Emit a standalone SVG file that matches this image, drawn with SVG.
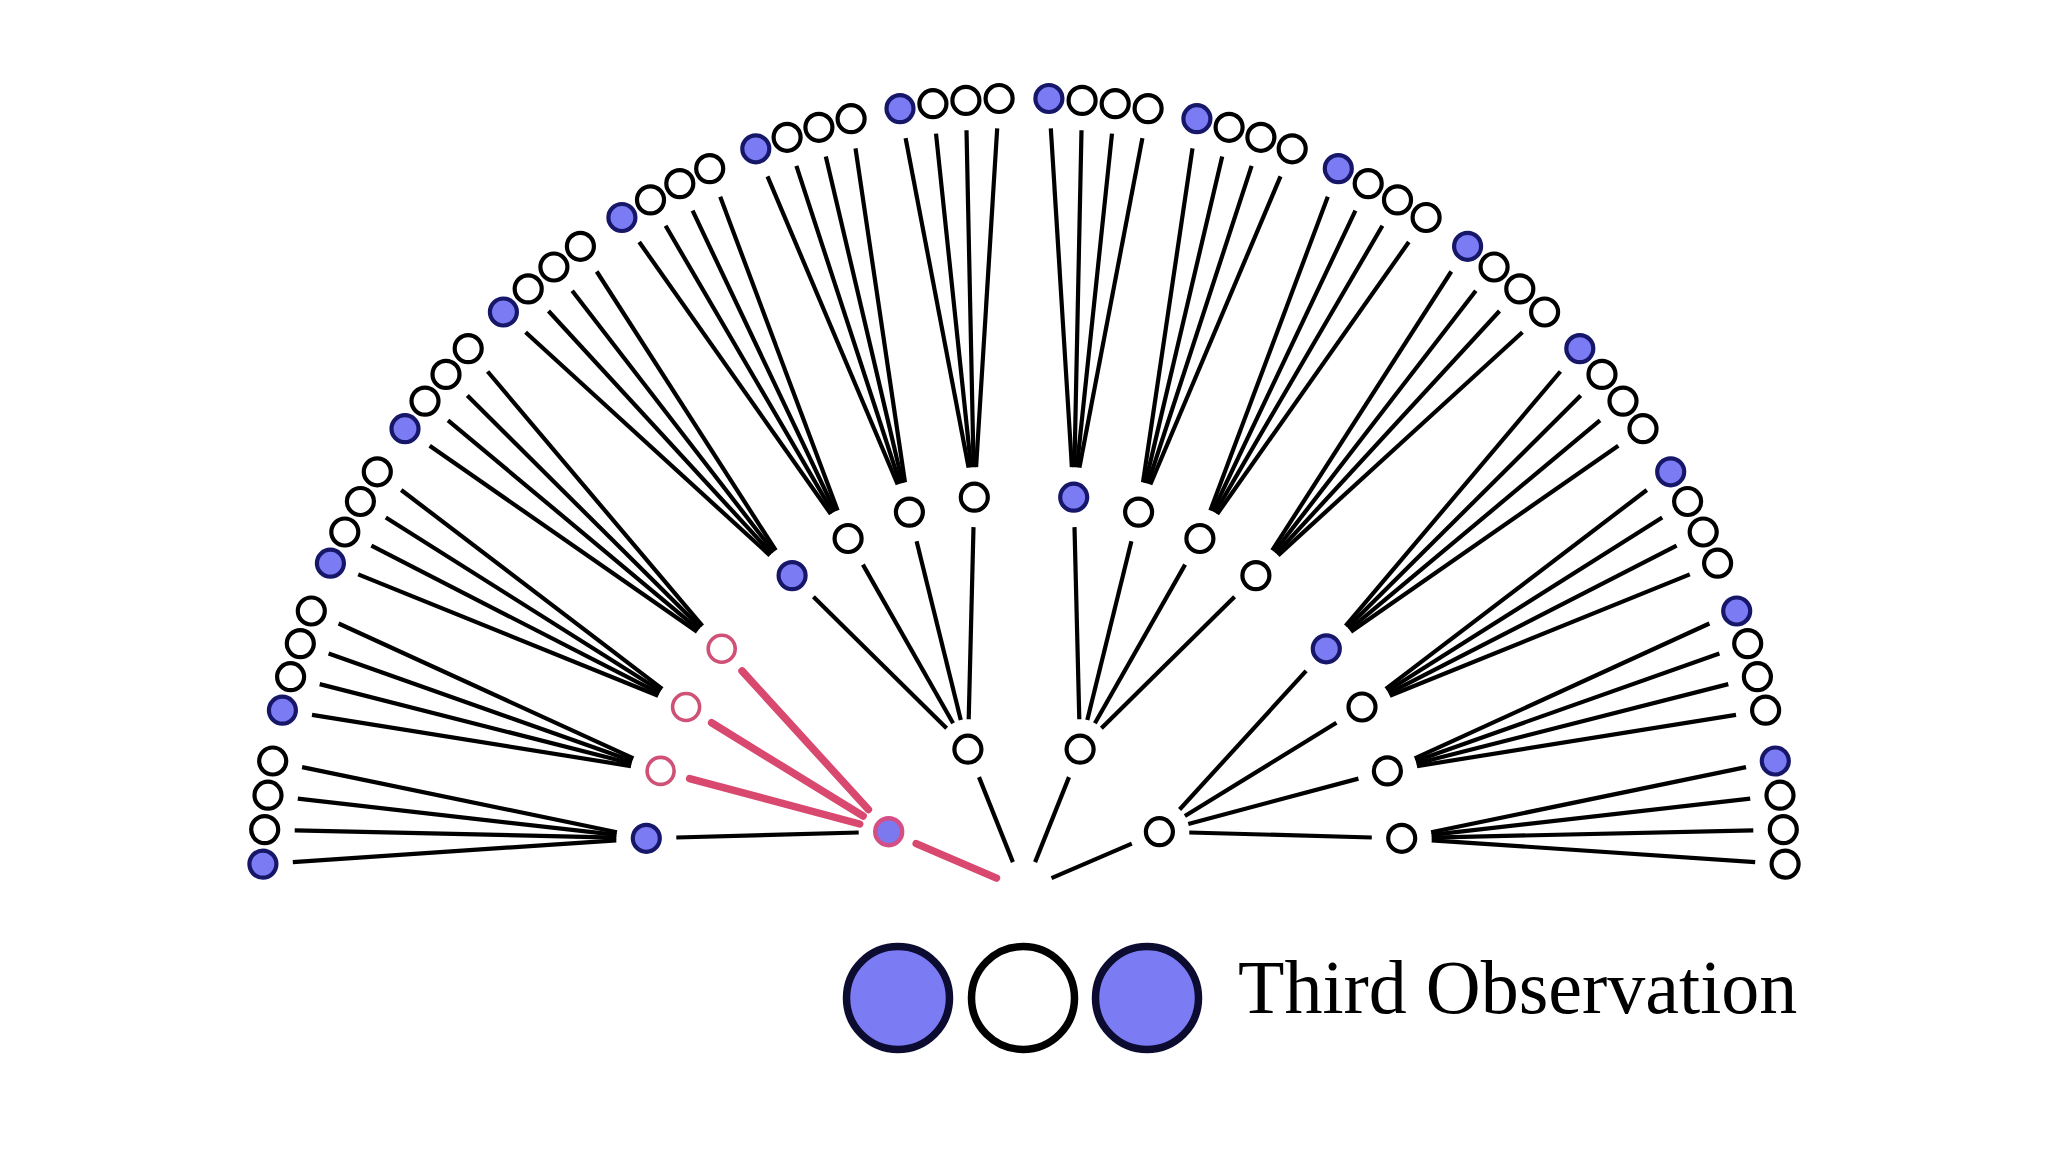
<svg xmlns="http://www.w3.org/2000/svg" width="2048" height="1152" viewBox="0 0 2048 1152">
<style>
.e{stroke:#000;stroke-width:4.2;fill:none}
.r{stroke:#d8486f;stroke-width:7.5;stroke-linecap:round;fill:none}
.w{fill:#fff;stroke:#000;stroke-width:4.2}
.b{fill:#7b7bf4;stroke:#17176a;stroke-width:4.2}
.rw{fill:#fff;stroke:#cf5176;stroke-width:3.6}
.rb{fill:#7c78ee;stroke:#d44f86;stroke-width:4.4}
.lb{fill:#7b7bf4;stroke:#0c0c30;stroke-width:7.5}
.lw{fill:#fff;stroke:#000;stroke-width:7.5}
text{font-family:"Liberation Serif","Times New Roman",serif;font-size:76px;fill:#000}
</style>
<rect width="2048" height="1152" fill="#fff"/>
<g id="connectors">
<line class="r" x1="996.5" y1="878.1" x2="916.2" y2="843.6"/>
<line class="e" x1="1012.9" y1="862.1" x2="979.0" y2="777.1"/>
<line class="e" x1="1035.1" y1="862.1" x2="1069.0" y2="777.1"/>
<line class="e" x1="1051.5" y1="878.1" x2="1131.8" y2="843.6"/>
<line class="e" x1="858.7" y1="832.5" x2="676.3" y2="837.5"/>
<line class="r" x1="859.7" y1="824.0" x2="689.6" y2="778.6"/>
<line class="r" x1="863.1" y1="816.0" x2="711.6" y2="722.8"/>
<line class="r" x1="868.4" y1="809.5" x2="742.0" y2="670.9"/>
<line class="e" x1="946.6" y1="728.2" x2="813.4" y2="596.7"/>
<line class="e" x1="953.1" y1="723.2" x2="862.9" y2="564.6"/>
<line class="e" x1="960.8" y1="720.1" x2="916.6" y2="541.2"/>
<line class="e" x1="968.7" y1="719.3" x2="973.5" y2="527.1"/>
<line class="e" x1="1079.3" y1="719.3" x2="1074.5" y2="527.1"/>
<line class="e" x1="1087.3" y1="720.1" x2="1131.4" y2="541.2"/>
<line class="e" x1="1094.9" y1="723.2" x2="1185.1" y2="564.6"/>
<line class="e" x1="1101.4" y1="728.2" x2="1234.6" y2="596.7"/>
<line class="e" x1="1179.6" y1="809.5" x2="1306.1" y2="670.9"/>
<line class="e" x1="1184.9" y1="816.0" x2="1336.4" y2="722.8"/>
<line class="e" x1="1188.3" y1="824.0" x2="1358.4" y2="778.6"/>
<line class="e" x1="1189.3" y1="832.5" x2="1371.8" y2="837.5"/>
<line class="e" x1="616.3" y1="840.3" x2="292.8" y2="862.1"/>
<line class="e" x1="616.3" y1="837.6" x2="294.7" y2="830.3"/>
<line class="e" x1="616.5" y1="834.9" x2="297.8" y2="798.6"/>
<line class="e" x1="616.9" y1="832.2" x2="302.1" y2="767.1"/>
<line class="e" x1="631.0" y1="766.1" x2="312.0" y2="714.9"/>
<line class="e" x1="631.6" y1="763.5" x2="319.7" y2="684.1"/>
<line class="e" x1="632.3" y1="760.9" x2="328.6" y2="653.6"/>
<line class="e" x1="633.4" y1="758.4" x2="338.6" y2="623.5"/>
<line class="e" x1="658.2" y1="695.8" x2="358.2" y2="574.4"/>
<line class="e" x1="659.4" y1="693.4" x2="371.4" y2="545.7"/>
<line class="e" x1="660.7" y1="691.0" x2="385.8" y2="517.5"/>
<line class="e" x1="662.2" y1="688.9" x2="401.2" y2="490.0"/>
<line class="e" x1="697.1" y1="631.7" x2="429.7" y2="445.8"/>
<line class="e" x1="698.7" y1="629.6" x2="448.0" y2="420.3"/>
<line class="e" x1="700.5" y1="627.6" x2="467.3" y2="395.5"/>
<line class="e" x1="702.4" y1="625.9" x2="487.6" y2="371.5"/>
<line class="e" x1="769.9" y1="555.4" x2="525.6" y2="332.2"/>
<line class="e" x1="771.7" y1="553.6" x2="548.5" y2="311.0"/>
<line class="e" x1="773.7" y1="551.9" x2="572.2" y2="290.7"/>
<line class="e" x1="775.8" y1="550.4" x2="596.7" y2="271.5"/>
<line class="e" x1="830.8" y1="514.0" x2="639.2" y2="242.0"/>
<line class="e" x1="833.0" y1="512.6" x2="665.6" y2="225.8"/>
<line class="e" x1="835.2" y1="511.4" x2="692.6" y2="210.7"/>
<line class="e" x1="837.6" y1="510.4" x2="720.2" y2="196.7"/>
<line class="e" x1="897.7" y1="484.5" x2="767.5" y2="176.4"/>
<line class="e" x1="900.1" y1="483.6" x2="796.4" y2="165.9"/>
<line class="e" x1="902.6" y1="482.9" x2="825.8" y2="156.5"/>
<line class="e" x1="905.0" y1="482.4" x2="855.5" y2="148.4"/>
<line class="e" x1="968.6" y1="467.7" x2="905.6" y2="138.1"/>
<line class="e" x1="971.1" y1="467.3" x2="936.0" y2="133.6"/>
<line class="e" x1="973.6" y1="467.2" x2="966.5" y2="130.3"/>
<line class="e" x1="976.1" y1="467.2" x2="997.2" y2="128.4"/>
<line class="e" x1="1071.9" y1="467.2" x2="1050.8" y2="128.4"/>
<line class="e" x1="1074.4" y1="467.2" x2="1081.5" y2="130.3"/>
<line class="e" x1="1076.9" y1="467.3" x2="1112.0" y2="133.6"/>
<line class="e" x1="1079.4" y1="467.7" x2="1142.4" y2="138.1"/>
<line class="e" x1="1143.0" y1="482.4" x2="1192.5" y2="148.4"/>
<line class="e" x1="1145.4" y1="482.9" x2="1222.2" y2="156.5"/>
<line class="e" x1="1147.9" y1="483.6" x2="1251.6" y2="165.9"/>
<line class="e" x1="1150.3" y1="484.5" x2="1280.5" y2="176.4"/>
<line class="e" x1="1210.4" y1="510.4" x2="1327.8" y2="196.7"/>
<line class="e" x1="1212.8" y1="511.4" x2="1355.4" y2="210.7"/>
<line class="e" x1="1215.0" y1="512.6" x2="1382.4" y2="225.8"/>
<line class="e" x1="1217.2" y1="514.0" x2="1408.8" y2="242.0"/>
<line class="e" x1="1272.2" y1="550.4" x2="1451.3" y2="271.5"/>
<line class="e" x1="1274.3" y1="551.9" x2="1475.8" y2="290.7"/>
<line class="e" x1="1276.3" y1="553.6" x2="1499.5" y2="311.0"/>
<line class="e" x1="1278.1" y1="555.4" x2="1522.4" y2="332.2"/>
<line class="e" x1="1345.6" y1="625.9" x2="1560.4" y2="371.5"/>
<line class="e" x1="1347.5" y1="627.6" x2="1580.7" y2="395.5"/>
<line class="e" x1="1349.3" y1="629.6" x2="1600.0" y2="420.3"/>
<line class="e" x1="1350.9" y1="631.7" x2="1618.3" y2="445.8"/>
<line class="e" x1="1385.8" y1="688.9" x2="1646.8" y2="490.0"/>
<line class="e" x1="1387.3" y1="691.0" x2="1662.2" y2="517.5"/>
<line class="e" x1="1388.6" y1="693.4" x2="1676.6" y2="545.7"/>
<line class="e" x1="1389.8" y1="695.8" x2="1689.8" y2="574.4"/>
<line class="e" x1="1414.7" y1="758.4" x2="1709.4" y2="623.5"/>
<line class="e" x1="1415.7" y1="760.9" x2="1719.4" y2="653.6"/>
<line class="e" x1="1416.4" y1="763.5" x2="1728.3" y2="684.1"/>
<line class="e" x1="1417.0" y1="766.1" x2="1736.0" y2="714.9"/>
<line class="e" x1="1431.1" y1="832.2" x2="1746.0" y2="767.1"/>
<line class="e" x1="1431.6" y1="834.9" x2="1750.2" y2="798.6"/>
<line class="e" x1="1431.7" y1="837.6" x2="1753.3" y2="830.3"/>
<line class="e" x1="1431.7" y1="840.3" x2="1755.2" y2="862.1"/>
</g>
<g id="level1">
<g id="n1-0"><circle class="rb" cx="888.7" cy="831.7" r="13.5"/></g>
<g id="n1-1"><circle class="w" cx="967.9" cy="749.2" r="13.5"/></g>
<g id="n1-2"><circle class="w" cx="1080.1" cy="749.2" r="13.5"/></g>
<g id="n1-3"><circle class="w" cx="1159.4" cy="831.7" r="13.5"/></g>
</g>
<g id="level2">
<g id="n2-00"><circle class="b" cx="646.3" cy="838.3" r="13.5"/></g>
<g id="n2-01"><circle class="rw" cx="660.6" cy="770.9" r="13.5"/></g>
<g id="n2-02"><circle class="rw" cx="686.1" cy="707.0" r="13.5"/></g>
<g id="n2-03"><circle class="rw" cx="721.7" cy="648.8" r="13.5"/></g>
<g id="n2-04"><circle class="b" cx="792.1" cy="575.6" r="13.5"/></g>
<g id="n2-05"><circle class="w" cx="848.1" cy="538.5" r="13.5"/></g>
<g id="n2-06"><circle class="w" cx="909.4" cy="512.1" r="13.5"/></g>
<g id="n2-07"><circle class="w" cx="974.3" cy="497.2" r="13.5"/></g>
<g id="n2-08"><circle class="b" cx="1073.7" cy="497.2" r="13.5"/></g>
<g id="n2-09"><circle class="w" cx="1138.6" cy="512.1" r="13.5"/></g>
<g id="n2-10"><circle class="w" cx="1199.9" cy="538.5" r="13.5"/></g>
<g id="n2-11"><circle class="w" cx="1255.9" cy="575.6" r="13.5"/></g>
<g id="n2-12"><circle class="b" cx="1326.3" cy="648.8" r="13.5"/></g>
<g id="n2-13"><circle class="w" cx="1362.0" cy="707.0" r="13.5"/></g>
<g id="n2-14"><circle class="w" cx="1387.4" cy="770.9" r="13.5"/></g>
<g id="n2-15"><circle class="w" cx="1401.7" cy="838.3" r="13.5"/></g>
</g>
<g id="level3">
<g id="n3-00"><circle class="b" cx="262.9" cy="864.1" r="13.5"/></g>
<g id="n3-01"><circle class="w" cx="264.7" cy="829.6" r="13.5"/></g>
<g id="n3-02"><circle class="w" cx="268.0" cy="795.2" r="13.5"/></g>
<g id="n3-03"><circle class="w" cx="272.7" cy="761.0" r="13.5"/></g>
<g id="n3-04"><circle class="b" cx="282.4" cy="710.2" r="13.5"/></g>
<g id="n3-05"><circle class="w" cx="290.6" cy="676.7" r="13.5"/></g>
<g id="n3-06"><circle class="w" cx="300.3" cy="643.6" r="13.5"/></g>
<g id="n3-07"><circle class="w" cx="311.3" cy="611.0" r="13.5"/></g>
<g id="n3-08"><circle class="b" cx="330.4" cy="563.2" r="13.5"/></g>
<g id="n3-09"><circle class="w" cx="344.8" cy="532.0" r="13.5"/></g>
<g id="n3-10"><circle class="w" cx="360.4" cy="501.5" r="13.5"/></g>
<g id="n3-11"><circle class="w" cx="377.3" cy="471.8" r="13.5"/></g>
<g id="n3-12"><circle class="b" cx="405.0" cy="428.7" r="13.5"/></g>
<g id="n3-13"><circle class="w" cx="425.0" cy="401.1" r="13.5"/></g>
<g id="n3-14"><circle class="w" cx="446.0" cy="374.4" r="13.5"/></g>
<g id="n3-15"><circle class="w" cx="468.2" cy="348.6" r="13.5"/></g>
<g id="n3-16"><circle class="b" cx="503.4" cy="312.0" r="13.5"/></g>
<g id="n3-17"><circle class="w" cx="528.2" cy="288.9" r="13.5"/></g>
<g id="n3-18"><circle class="w" cx="553.9" cy="267.0" r="13.5"/></g>
<g id="n3-19"><circle class="w" cx="580.4" cy="246.3" r="13.5"/></g>
<g id="n3-20"><circle class="b" cx="621.9" cy="217.5" r="13.5"/></g>
<g id="n3-21"><circle class="w" cx="650.5" cy="199.9" r="13.5"/></g>
<g id="n3-22"><circle class="w" cx="679.8" cy="183.6" r="13.5"/></g>
<g id="n3-23"><circle class="w" cx="709.7" cy="168.6" r="13.5"/></g>
<g id="n3-24"><circle class="b" cx="755.8" cy="148.8" r="13.5"/></g>
<g id="n3-25"><circle class="w" cx="787.1" cy="137.3" r="13.5"/></g>
<g id="n3-26"><circle class="w" cx="818.9" cy="127.3" r="13.5"/></g>
<g id="n3-27"><circle class="w" cx="851.1" cy="118.7" r="13.5"/></g>
<g id="n3-28"><circle class="b" cx="900.0" cy="108.6" r="13.5"/></g>
<g id="n3-29"><circle class="w" cx="932.9" cy="103.7" r="13.5"/></g>
<g id="n3-30"><circle class="w" cx="965.9" cy="100.4" r="13.5"/></g>
<g id="n3-31"><circle class="w" cx="999.1" cy="98.5" r="13.5"/></g>
<g id="n3-32"><circle class="b" cx="1048.9" cy="98.5" r="13.5"/></g>
<g id="n3-33"><circle class="w" cx="1082.1" cy="100.4" r="13.5"/></g>
<g id="n3-34"><circle class="w" cx="1115.2" cy="103.7" r="13.5"/></g>
<g id="n3-35"><circle class="w" cx="1148.1" cy="108.6" r="13.5"/></g>
<g id="n3-36"><circle class="b" cx="1196.9" cy="118.7" r="13.5"/></g>
<g id="n3-37"><circle class="w" cx="1229.1" cy="127.3" r="13.5"/></g>
<g id="n3-38"><circle class="w" cx="1260.9" cy="137.3" r="13.5"/></g>
<g id="n3-39"><circle class="w" cx="1292.2" cy="148.8" r="13.5"/></g>
<g id="n3-40"><circle class="b" cx="1338.3" cy="168.6" r="13.5"/></g>
<g id="n3-41"><circle class="w" cx="1368.2" cy="183.6" r="13.5"/></g>
<g id="n3-42"><circle class="w" cx="1397.5" cy="199.9" r="13.5"/></g>
<g id="n3-43"><circle class="w" cx="1426.1" cy="217.5" r="13.5"/></g>
<g id="n3-44"><circle class="b" cx="1467.6" cy="246.3" r="13.5"/></g>
<g id="n3-45"><circle class="w" cx="1494.1" cy="267.0" r="13.5"/></g>
<g id="n3-46"><circle class="w" cx="1519.8" cy="288.9" r="13.5"/></g>
<g id="n3-47"><circle class="w" cx="1544.6" cy="312.0" r="13.5"/></g>
<g id="n3-48"><circle class="b" cx="1579.8" cy="348.6" r="13.5"/></g>
<g id="n3-49"><circle class="w" cx="1602.0" cy="374.4" r="13.5"/></g>
<g id="n3-50"><circle class="w" cx="1623.0" cy="401.1" r="13.5"/></g>
<g id="n3-51"><circle class="w" cx="1643.0" cy="428.7" r="13.5"/></g>
<g id="n3-52"><circle class="b" cx="1670.7" cy="471.8" r="13.5"/></g>
<g id="n3-53"><circle class="w" cx="1687.6" cy="501.5" r="13.5"/></g>
<g id="n3-54"><circle class="w" cx="1703.2" cy="532.0" r="13.5"/></g>
<g id="n3-55"><circle class="w" cx="1717.6" cy="563.2" r="13.5"/></g>
<g id="n3-56"><circle class="b" cx="1736.7" cy="611.0" r="13.5"/></g>
<g id="n3-57"><circle class="w" cx="1747.7" cy="643.6" r="13.5"/></g>
<g id="n3-58"><circle class="w" cx="1757.4" cy="676.7" r="13.5"/></g>
<g id="n3-59"><circle class="w" cx="1765.6" cy="710.2" r="13.5"/></g>
<g id="n3-60"><circle class="b" cx="1775.3" cy="761.0" r="13.5"/></g>
<g id="n3-61"><circle class="w" cx="1780.0" cy="795.2" r="13.5"/></g>
<g id="n3-62"><circle class="w" cx="1783.3" cy="829.6" r="13.5"/></g>
<g id="n3-63"><circle class="w" cx="1785.1" cy="864.1" r="13.5"/></g>
</g>
<g id="legend">
<circle class="lb" cx="898" cy="998" r="51.5"/>
<circle class="lw" cx="1023" cy="998" r="51.5"/>
<circle class="lb" cx="1147" cy="998" r="51.5"/>
<text x="1238" y="1013">Third Observation</text>
</g>
</svg>
